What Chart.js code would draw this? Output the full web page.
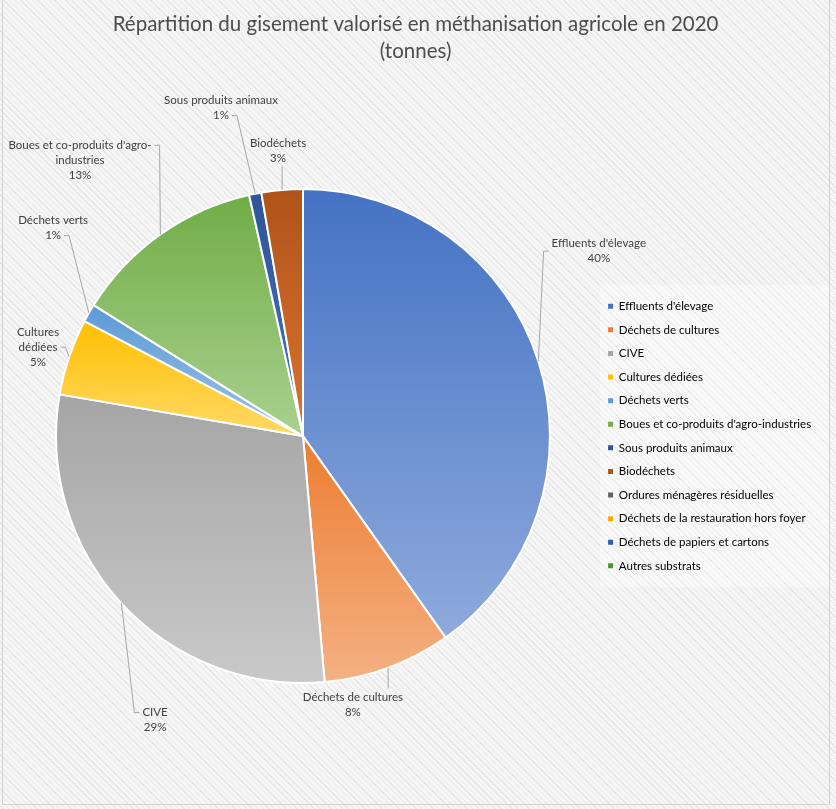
<!DOCTYPE html>
<html>
<head>
<meta charset="utf-8">
<script src="https://cdn.jsdelivr.net/npm/chart.js@4.4.1/dist/chart.umd.min.js"></script>
<style>
  html, body { margin: 0; padding: 0; }
  body {
    width: 836px; height: 809px; overflow: hidden; position: relative;
    background: repeating-linear-gradient(45deg, #f6f6f6 0 2px, #e6e6e6 2px 3px, #f6f6f6 3px 4px);
  }
  #frame { position: absolute; left: 2px; top: -1px; width: 828px; height: 806px; border: 1px solid #d2d2d2; box-sizing: border-box; }
  #wrap { position: absolute; left: 0; top: 0; width: 836px; height: 809px; }
</style>
</head>
<body>
<div id="frame"></div>
<div id="wrap"><canvas id="pie" width="836" height="809"></canvas></div>
<script>
// categories and shares (% of tonnage)
const categories = [
  "Effluents d'élevage",
  "Déchets de cultures",
  "CIVE",
  "Cultures dédiées",
  "Déchets verts",
  "Boues et co-produits d'agro-industries",
  "Sous produits animaux",
  "Biodéchets",
  "Ordures ménagères résiduelles",
  "Déchets de la restauration hors foyer",
  "Déchets de papiers et cartons",
  "Autres substrats"
];
const shares = [40.2, 8.4, 29.1, 5.0, 1.2, 12.6, 0.8, 2.7, 0, 0, 0, 0];

// gradient colours per slice (top -> bottom)
const topColors = ['#4472C4', '#ED7D31', '#A5A5A5', '#FFC000', '#5B9BD5', '#70AD47',
                   '#2E5597', '#B0531A', '#636363', '#FFA800', '#2F5FB0', '#43982B'];
const bottomColors = ['#8FAADC', '#F4B183', '#C9C9C9', '#FFD966', '#9DC3E6', '#A9D18E',
                      '#4472C4', '#DA7430', '#8A8A8A', '#FFC84D', '#5B84CC', '#6DB84F'];

// where Excel put each outside label (in pie radii from centre) and how the leader attaches
const labelSpots = [
  { dx: 1.198, dy: -0.749, side: 'left' },
  { dx: 0.202, dy: 1.087, side: 'top' },
  { dx: -0.599, dy: 1.150, side: 'left', line: 0 },
  { dx: -1.073, dy: -0.360, side: 'right', line: 1, wrap: 60 },
  { dx: -1.012, dy: -0.842, side: 'right', line: 1 },
  { dx: -0.903, dy: -1.117, side: 'right', line: 0, wrap: 155 },
  { dx: -0.332, dy: -1.328, side: 'right', line: 1 },
  { dx: -0.101, dy: -1.156, side: 'bottom' }
];

const FONT = 'Lato';
const LEGEND_LEFT = 596;
const LEGEND_SIZE = 11.5;

function sliceFill(c) {
  const i = c.dataIndex;
  const el = c.element;
  if (!el || !el.outerRadius) return topColors[i];
  const { x, y, startAngle, endAngle, outerRadius } = el;
  let minY = y, maxY = y;
  for (let k = 0; k <= 48; k++) {
    const a = startAngle + (endAngle - startAngle) * k / 48;
    const py = y + outerRadius * Math.sin(a);
    minY = Math.min(minY, py);
    maxY = Math.max(maxY, py);
  }
  if (maxY - minY < 1) return topColors[i];
  const g = c.chart.ctx.createLinearGradient(0, minY, 0, maxY);
  g.addColorStop(0, topColors[i]);
  g.addColorStop(1, bottomColors[i]);
  return g;
}

function wrapText(ctx, text, maxW) {
  if (!maxW) return [text];
  const tokens = text.match(/[^ -]+[- ]?|[- ]/g);
  const lines = [];
  let cur = '';
  tokens.forEach(t => {
    const test = cur + t;
    if (cur && ctx.measureText(test.trim()).width > maxW) {
      lines.push(cur.trim());
      cur = t;
    } else {
      cur = test;
    }
  });
  if (cur.trim()) lines.push(cur.trim());
  return lines;
}

const outsideLabels = {
  id: 'outsideLabels',
  afterDatasetsDraw(chart) {
    const ctx = chart.ctx;
    const meta = chart.getDatasetMeta(0);
    const total = shares.reduce((a, b) => a + b, 0);
    ctx.save();
    ctx.font = '11.5px ' + FONT;
    ctx.textAlign = 'center';
    ctx.textBaseline = 'middle';
    const lh = 15;
    meta.data.forEach((arc, i) => {
      const spot = labelSpots[i];
      if (!spot || !shares[i]) return;
      const { x, y, startAngle, endAngle, outerRadius: r } = arc;
      const mid = (startAngle + endAngle) / 2;
      const ax = x + r * Math.cos(mid);
      const ay = y + r * Math.sin(mid);
      const lines = wrapText(ctx, categories[i], spot.wrap);
      lines.push(Math.round(shares[i] / total * 100) + '%');
      const cx = x + spot.dx * r;
      const cy = y + spot.dy * r;
      const h = lines.length * lh;
      const widths = lines.map(l => ctx.measureText(l).width);
      const bw = Math.max(...widths);
      const top = cy - h / 2;

      // leader line
      let ex, ey, path;
      if (spot.side === 'left' || spot.side === 'right') {
        const lw = spot.line === undefined ? bw : widths[spot.line];
        ey = spot.line === undefined ? cy : top + lh * (spot.line + 0.5);
        if (spot.side === 'left') {
          ex = cx - lw / 2 - 3;
          path = [[ax, ay], [ex - 5, ey], [ex, ey]];
        } else {
          ex = cx + lw / 2 + 3;
          path = [[ax, ay], [ex + 5, ey], [ex, ey]];
        }
      } else {
        ex = Math.min(Math.max(ax, cx - bw / 2), cx + bw / 2);
        ey = spot.side === 'top' ? top - 1 : top + h + 1;
        path = [[ax, ay], [ex, ey]];
      }
      ctx.strokeStyle = '#a6a6a6';
      ctx.lineWidth = 1;
      ctx.beginPath();
      path.forEach((p, k) => k ? ctx.lineTo(p[0], p[1]) : ctx.moveTo(p[0], p[1]));
      ctx.stroke();

      ctx.fillStyle = '#404040';
      lines.forEach((l, k) => ctx.fillText(l, cx, top + lh * (k + 0.5)));
    });
    ctx.restore();
  }
};

const legendPanel = {
  id: 'legendPanel',
  beforeDraw(chart) {
    const lg = chart.legend;
    if (!lg || !lg.legendHitBoxes.length) return;
    const boxes = lg.legendHitBoxes;
    const t = boxes[0].top - 16;
    const b = boxes[boxes.length - 1].top + boxes[boxes.length - 1].height + 16;
    const ctx = chart.ctx;
    ctx.save();
    ctx.fillStyle = 'rgba(255,255,255,0.3)';
    ctx.fillRect(lg.left + 4, t, 829 - lg.left - 4, b - t);
    ctx.restore();
  }
};

// size the legend so that it starts where Excel's did
const measure = document.createElement('canvas').getContext('2d');
measure.font = LEGEND_SIZE + 'px ' + FONT;
const longest = Math.max(...categories.map(c => measure.measureText(c).width));
const legendPad = 12.1;
const legendWidth = legendPad + 5 + LEGEND_SIZE / 2 + longest + 10;
const rightPad = Math.max(0, 836 - LEGEND_LEFT - legendWidth);

const chart = new Chart(document.getElementById('pie'), {
  type: 'pie',
  data: {
    labels: categories,
    datasets: [{
      data: shares,
      backgroundColor: sliceFill,
      borderColor: '#ffffff',
      borderWidth: 2
    }]
  },
  plugins: [legendPanel, outsideLabels],
  options: {
    responsive: false,
    animation: false,
    layout: { padding: { left: 10, right: rightPad, top: 0, bottom: 125 } },
    plugins: {
      title: {
        display: true,
        text: ['Répartition du gisement valorisé en méthanisation agricole en 2020', '(tonnes)'],
        color: '#4d4d4d',
        font: { family: FONT, size: 20.5, weight: 'normal', lineHeight: 1.32 },
        padding: { top: 10.5, bottom: 123.5 }
      },
      legend: {
        position: 'right',
        fullSize: false,
        labels: {
          font: { family: FONT, size: LEGEND_SIZE },
          color: '#595959',
          usePointStyle: true,
          pointStyle: 'rect',
          boxWidth: 5,
          boxHeight: 5,
          padding: legendPad,
          generateLabels(ch) {
            return categories.map((c, i) => ({
              text: c,
              fillStyle: topColors[i],
              strokeStyle: topColors[i],
              lineWidth: 0,
              pointStyle: 'rect',
              hidden: false,
              index: i
            }));
          }
        }
      },
      tooltip: { enabled: false }
    }
  }
});
chart.update();
</script>
</body>
</html>
